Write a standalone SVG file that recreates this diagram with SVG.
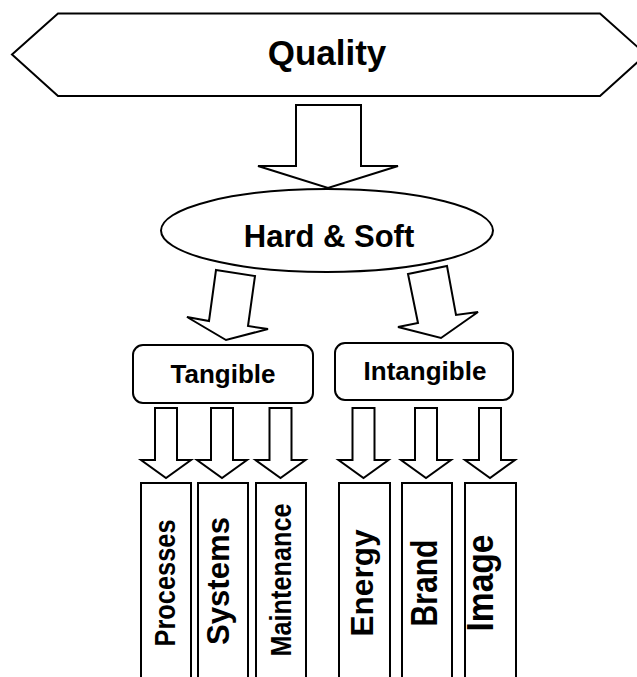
<svg xmlns="http://www.w3.org/2000/svg" width="637" height="677" viewBox="0 0 637 677">
<style>
.s{fill:#fff;stroke:#000;stroke-width:2;stroke-linejoin:miter}
.t{font-family:"Liberation Sans",Arial,sans-serif;font-weight:bold;fill:#000;text-anchor:middle}
</style>
<rect width="637" height="677" fill="#fff"/>
<g id="quality">
<polygon class="s" points="12,54.5 58,13.5 600,13.5 646,54.5 600,96 58,96"/>
<text class="t" x="327" y="65" font-size="35">Quality</text>
</g>
<g id="connectors">
<path class="s" d="M296,105 H361 V166 H398 L328,188 L258,166 H296 Z"/>
<path class="s" d="M216,270 L255,276 L248,326 L268,329 L226,340 L187,317 L209,321 Z"/>
<path class="s" d="M408,274 L447,266 L456,315 L478,312 L441,338 L398,327 L418,323 Z"/>
<path class="s" d="M155,408 H177 V460 H191 L166,478 L141,460 H155 Z"/>
<path class="s" d="M211,408 H233 V460 H247 L222,478 L197,460 H211 Z"/>
<path class="s" d="M269.5,408 H291.5 V460 H305.5 L280.5,478 L255.5,460 H269.5 Z"/>
<path class="s" d="M352.5,408 H374.5 V460 H388.5 L363.5,478 L338.5,460 H352.5 Z"/>
<path class="s" d="M415,408 H437 V460 H451 L426,478 L401,460 H415 Z"/>
<path class="s" d="M479,408 H501 V460 H515 L490,478 L465,460 H479 Z"/>
</g>
<g id="hardsoft">
<ellipse class="s" cx="327" cy="230.5" rx="166" ry="41.5"/>
<text class="t" x="329" y="247" font-size="31">Hard &amp; Soft</text>
</g>
<g id="tangible">
<rect class="s" x="133" y="345" width="180" height="58" rx="10"/>
<text class="t" x="223" y="383" font-size="26">Tangible</text>
</g>
<g id="intangible">
<rect class="s" x="335" y="343" width="178" height="57" rx="10"/>
<text class="t" x="425" y="380" font-size="26">Intangible</text>
</g>
<g id="processes">
<rect class="s" x="141" y="483" width="50" height="210"/>
<text class="t" font-size="30" transform="translate(175,583) rotate(-90)" textLength="127" lengthAdjust="spacingAndGlyphs">Processes</text>
</g>
<g id="systems">
<rect class="s" x="198" y="483" width="50" height="210"/>
<text class="t" font-size="32" transform="translate(229,581) rotate(-90)" textLength="128" lengthAdjust="spacingAndGlyphs">Systems</text>
</g>
<g id="maintenance">
<rect class="s" x="256" y="483" width="50" height="210"/>
<text class="t" font-size="30" transform="translate(291,580) rotate(-90)" textLength="153" lengthAdjust="spacingAndGlyphs">Maintenance</text>
</g>
<g id="energy">
<rect class="s" x="339" y="483" width="51" height="210"/>
<text class="t" font-size="31" transform="translate(373,583) rotate(-90)" textLength="107" lengthAdjust="spacingAndGlyphs">Energy</text>
</g>
<g id="brand">
<rect class="s" x="402" y="483" width="50" height="210"/>
<text class="t" font-size="36" transform="translate(437,583) rotate(-90)" textLength="87" lengthAdjust="spacingAndGlyphs">Brand</text>
</g>
<g id="image">
<rect class="s" x="465" y="483" width="51" height="210"/>
<text class="t" font-size="37" transform="translate(493,583) rotate(-90)" textLength="97" lengthAdjust="spacingAndGlyphs">Image</text>
</g>
</svg>
